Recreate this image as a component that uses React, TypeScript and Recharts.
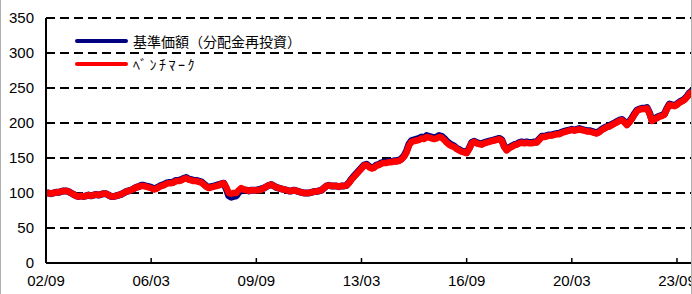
import { LineChart, Line, XAxis, YAxis, CartesianGrid } from "recharts";

// Monthly index values, 2002/09 = 100, through 2024/03
const START_YEAR = 2002;
const START_MONTH = 9;

// 基準価額（分配金再投資）
const fundValues = [
  100, 100, 99, 100, 101, 101, 102, 103, 103, 102,
  100, 98, 96, 95, 96, 95, 96, 97, 96, 97,
  98, 97, 98, 99, 99, 97, 95, 95, 96, 97,
  98, 100, 102, 103, 104, 106,
  108, 109, 111, 111, 110, 109, 108, 106, 107, 109,
  111, 112, 114, 115, 115, 116, 118, 118, 119, 121,
  122, 120, 119, 118, 118, 117, 116, 113, 110, 108,
  109, 110, 111, 112, 113, 114,
  106, 96, 94, 95, 96, 101, 105, 104, 104, 103, 104, 104, 104,
  105, 106, 107, 109, 111, 112, 110, 108, 107, 106,
  105, 104, 103, 103, 104, 103, 102, 101, 100, 100,
  100, 101, 102, 102, 103, 104, 107, 110, 111, 110,
  110, 110, 109, 110, 110, 111,
  115, 120, 124, 128, 132, 136, 140, 141, 138, 136,
  137, 140, 141, 143, 144, 144, 145, 145, 146, 146,
  147, 149, 153, 160, 170, 175, 176, 177, 178, 180,
  179, 182, 181, 180, 179, 180, 182, 181, 178, 174,
  171, 169, 167, 164, 162, 160, 159, 158, 164, 172,
  174, 172, 171, 170, 172, 173, 174, 175, 176, 177,
  178, 176, 167, 162, 165, 167, 169, 170, 172, 173,
  172, 173, 172, 172, 173, 173, 177, 181, 181, 182,
  183, 183, 184, 185, 185, 187, 188, 189, 190, 191,
  190, 191, 192, 191, 190, 189, 189, 188, 187, 186,
  188, 191, 193, 195, 196, 198, 200, 202, 204, 205,
  202, 198, 202, 207, 213, 218, 220, 221, 221, 222,
  215, 204, 206, 208, 210, 211, 213, 221, 227, 226,
  225, 227, 230, 232, 234, 238, 243, 246,
];

// ベンチマーク
const benchmarkValues = [
  100, 100, 99, 100, 101, 101, 102, 103, 103, 102,
  100, 98, 96, 95, 96, 95, 96, 97, 96, 97,
  98, 97, 98, 99, 99, 97, 95, 95, 96, 97,
  98, 100, 102, 103, 104, 106, 108, 109, 110, 110,
  109, 108, 107, 105, 106, 108, 110, 111, 113, 114,
  114, 115, 117, 117, 118, 120, 121, 119, 118, 117,
  117, 116, 115, 112, 109, 107, 108, 109, 110, 111,
  113, 114, 108, 100, 99, 100, 100, 104, 107, 105,
  104, 103, 104, 104, 104, 104, 105, 107, 109, 111,
  112, 110, 108, 107, 106, 105, 104, 103, 103, 104,
  103, 102, 101, 100, 100, 100, 101, 102, 102, 103,
  104, 107, 110, 111, 110, 110, 110, 109, 110, 110,
  111, 114, 119, 123, 127, 131, 135, 139, 140, 137,
  135, 136, 139, 140, 142, 143, 143, 144, 144, 145,
  145, 146, 148, 152, 158, 168, 173, 174, 175, 176,
  178, 177, 180, 179, 178, 177, 178, 180, 179, 176,
  172, 169, 167, 166, 163, 161, 159, 158, 157, 163,
  171, 173, 171, 170, 169, 171, 172, 173, 174, 175,
  176, 177, 175, 166, 161, 164, 166, 168, 169, 171,
  172, 171, 172, 171, 171, 172, 172, 176, 180, 180,
  181, 182, 182, 183, 184, 184, 186, 187, 188, 189,
  190, 189, 190, 191, 190, 189, 188, 188, 187, 186,
  185, 187, 190, 192, 194, 195, 197, 199, 201, 203,
  204, 201, 197, 201, 206, 212, 217, 219, 220, 220,
  221, 214, 203, 205, 207, 209, 210, 212, 220, 226,
  225, 224, 226, 229, 231, 233, 237, 242, 245,
];

const xTickLabels = ["02/09", "06/03", "09/09", "13/03", "16/09", "20/03", "23/09"];
const yTicks = [0, 50, 100, 150, 200, 250, 300, 350];

const FONT = '"Liberation Sans", Arial, "Noto Sans CJK JP", sans-serif';
const JP_FONT = '"Noto Sans CJK JP", "Liberation Sans", sans-serif';

// yy/mm label -> months since start
function labelToIndex(label: string): number {
  const [yy, mm] = label.split("/").map(Number);
  return (2000 + yy - START_YEAR) * 12 + (mm - START_MONTH);
}

const data = benchmarkValues.map((b, i) => ({
  m: i,
  fund: fundValues[i],
  benchmark: b,
}));

const xTicks = xTickLabels.map(labelToIndex);
const lastIndex = benchmarkValues.length - 1;

function XTick({ x = 0, y = 0, payload }: any) {
  const idx = xTicks.indexOf(payload?.value);
  const label = idx >= 0 ? xTickLabels[idx] : "";
  return (
    <g>
      <line x1={x} x2={x} y1={y - 5} y2={y} stroke="#000" strokeWidth={1.5} />
      <text
        x={x}
        y={y + 19}
        textAnchor="middle"
        dominantBaseline="middle"
        fill="#000"
        style={{ fontSize: 15, fontFamily: FONT }}
      >
        {label}
      </text>
    </g>
  );
}

function LegendOverlay() {
  const rows = [
    { color: "#000080", text: "基準価額（分配金再投資）", spacing: 0 },
    { color: "#ff0000", text: "ﾍﾞﾝﾁﾏｰｸ", spacing: 2.5 },
  ];
  return (
    <div style={{ position: "absolute", left: 75, top: 29 }}>
      {rows.map((r) => (
        <div key={r.text} style={{ display: "flex", alignItems: "center", height: 23 }}>
          <div style={{ width: 53, height: 4, background: r.color, borderRadius: 2 }} />
          <span
            style={{
              marginLeft: 5,
              fontSize: 14,
              fontFamily: JP_FONT,
              color: "#000",
              letterSpacing: r.spacing,
              whiteSpace: "nowrap",
            }}
          >
            {r.text}
          </span>
        </div>
      ))}
    </div>
  );
}

export default function App() {
  return (
    <div style={{ position: "absolute", left: 0, top: 0, width: 692, height: 294, background: "#fff" }}>
      <LineChart
        width={692}
        height={294}
        data={data}
        margin={{ top: 18, right: 0, bottom: 0, left: 0 }}
      >
        <CartesianGrid
          horizontal
          vertical={false}
          stroke="#000"
          strokeWidth={2}
          strokeDasharray="9 5"
        />
        <XAxis
          dataKey="m"
          type="number"
          domain={[0, lastIndex]}
          ticks={xTicks}
          interval={0}
          height={31}
          tickSize={0}
          tickMargin={0}
          tickLine={false}
          axisLine={{ stroke: "#000", strokeWidth: 2 }}
          tick={<XTick />}
        />
        <YAxis
          type="number"
          domain={[0, 350]}
          ticks={yTicks}
          interval={0}
          width={46}
          tickSize={0}
          tickMargin={12}
          tickLine={false}
          axisLine={{ stroke: "#000", strokeWidth: 2 }}
          tick={{ fill: "#000", fontSize: 15, fontFamily: FONT }}
        />
        <Line
          dataKey="fund"
          stroke="#000080"
          strokeWidth={7}
          dot={false}
          strokeLinejoin="round"
          isAnimationActive={false}
        />
        <Line
          dataKey="benchmark"
          stroke="#ff0000"
          strokeWidth={6.5}
          dot={false}
          strokeLinejoin="round"
          isAnimationActive={false}
        />
      </LineChart>
      <LegendOverlay />
      <div style={{ position: "absolute", left: 0, top: 0, width: 1, height: 294, background: "#b0b0b0" }} />
      <div style={{ position: "absolute", left: 691, top: 0, width: 1, height: 294, background: "#b0b0b0" }} />
    </div>
  );
}
